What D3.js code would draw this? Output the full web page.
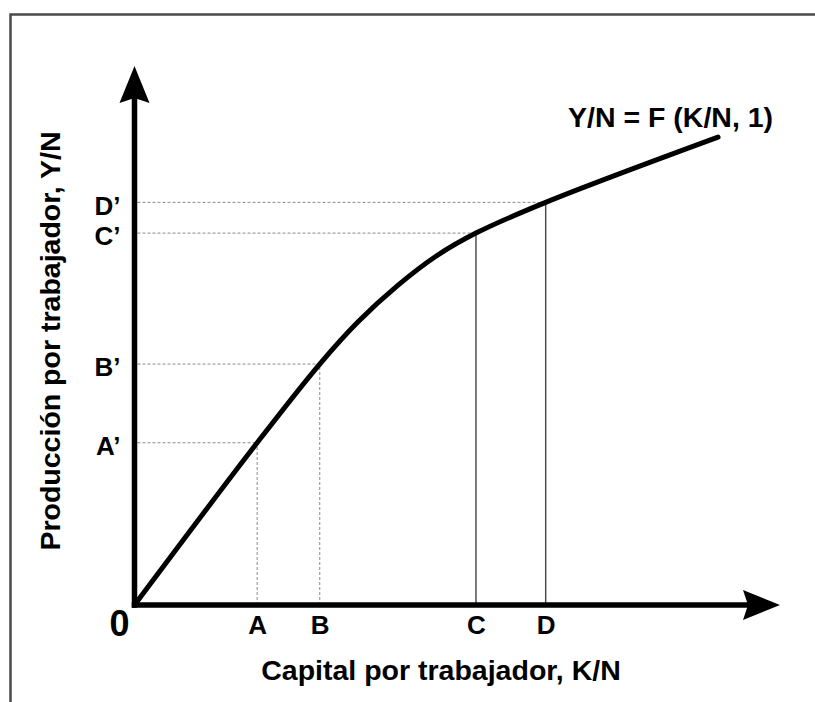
<!DOCTYPE html>
<html>
<head>
<meta charset="utf-8">
<script src="https://cdn.jsdelivr.net/npm/d3@7"></script>
<style>
  html, body { margin: 0; padding: 0; background: #fff; overflow: hidden; }
  svg { display: block; overflow: hidden; font-family: 'Liberation Sans', Arial, sans-serif; }
</style>
</head>
<body>
<div id="chart"></div>
<script>
// Production function per worker: Y/N = F(K/N, 1)
const curveK = [0, 1.9, 2.87, 3.46, 4.07, 4.67, 5.29, 6.37, 9.04];
const curveY = [0, 3.01, 4.47, 5.25, 5.92, 6.47, 6.9, 7.47, 8.68];

// marked points on the capital axis and their outputs
const pointLabels = ['A', 'B', 'C', 'D'];
const outputLabels = ['A’', 'B’', 'C’', 'D’'];
const pointK = [1.9, 2.87, 5.29, 6.37];
const pointY = [3.01, 4.47, 6.9, 7.47];

const curveLabel = 'Y/N = F (K/N, 1)';
const xTitle = 'Capital por trabajador, K/N';
const yTitle = 'Producción por trabajador, Y/N';

const width = 815, height = 702;
const font = "'Liberation Sans', Arial, sans-serif";

const x = d3.scaleLinear().domain([0, 10]).range([134.5, 780]);
const y = d3.scaleLinear().domain([0, 10]).range([605, 66]);

const svg = d3.select('#chart').append('svg')
  .attr('width', width)
  .attr('height', height);

// frame: only the top and left edges show in the picture
svg.append('path')
  .attr('d', `M10.5,${height + 5} L10.5,14.5 L${width + 5},14.5`)
  .attr('fill', 'none')
  .attr('stroke', '#4a4a4a')
  .attr('stroke-width', 2.5);

// guide lines
const guides = svg.append('g');
pointK.forEach((k, i) => {
  const dotted = i < 2;
  // horizontal, from the output axis to the curve
  guides.append('line')
    .attr('x1', x(0) + 3).attr('x2', x(k))
    .attr('y1', y(pointY[i])).attr('y2', y(pointY[i]))
    .attr('stroke', '#8a8a8a')
    .attr('stroke-width', 1)
    .attr('stroke-dasharray', '3,2');
  // vertical, from the capital axis to the curve
  guides.append('line')
    .attr('x1', x(k)).attr('x2', x(k))
    .attr('y1', y(0)).attr('y2', y(pointY[i]))
    .attr('stroke', dotted ? '#8a8a8a' : '#444')
    .attr('stroke-width', dotted ? 1 : 1.4)
    .attr('stroke-dasharray', dotted ? '3,2' : null);
});

// curve
const line = d3.line()
  .x(d => x(d[0]))
  .y(d => y(d[1]))
  .curve(d3.curveCatmullRom.alpha(0.5));

svg.append('path')
  .datum(curveK.map((k, i) => [k, curveY[i]]))
  .attr('d', line)
  .attr('fill', 'none')
  .attr('stroke', '#000')
  .attr('stroke-width', 5)
  .attr('stroke-linecap', 'round');

// axes with arrows
const axisW = 5.5;
svg.append('line')
  .attr('x1', x(0) - axisW / 2).attr('x2', x(10) - 30)
  .attr('y1', y(0)).attr('y2', y(0))
  .attr('stroke', '#000').attr('stroke-width', axisW);
svg.append('line')
  .attr('x1', x(0)).attr('x2', x(0))
  .attr('y1', y(0) + axisW / 2).attr('y2', y(10) + 30)
  .attr('stroke', '#000').attr('stroke-width', axisW);

const xt = x(10), yt = y(0);
svg.append('path')
  .attr('d', `M${xt},${yt} L${xt - 37},${yt - 15} L${xt - 32},${yt} L${xt - 37},${yt + 15} Z`)
  .attr('fill', '#000');
const ux = x(0), uy = y(10);
svg.append('path')
  .attr('d', `M${ux},${uy} L${ux - 15},${uy + 37} L${ux},${uy + 32} L${ux + 15},${uy + 37} Z`)
  .attr('fill', '#000');

// tick labels via d3 axes
const gx = svg.append('g')
  .attr('transform', `translate(0,${y(0)})`)
  .call(d3.axisBottom(x).tickValues(pointK).tickFormat((d, i) => pointLabels[i]).tickSize(0).tickPadding(11));
gx.select('.domain').remove();
gx.selectAll('text')
  .attr('font-size', 26).attr('font-weight', 'bold')
  .attr('font-family', font)
  .attr('fill', '#000');

const gy = svg.append('g')
  .attr('transform', `translate(${x(0)},0)`)
  .call(d3.axisLeft(y).tickValues(pointY).tickFormat((d, i) => outputLabels[i]).tickSize(0).tickPadding(14));
gy.select('.domain').remove();
gy.selectAll('text')
  .attr('dy', '0.45em')
  .attr('font-size', 26).attr('font-weight', 'bold')
  .attr('font-family', font)
  .attr('fill', '#000');

// origin
svg.append('text')
  .attr('x', 119.5).attr('y', 636)
  .attr('text-anchor', 'middle')
  .attr('font-size', 36).attr('font-weight', 'bold')
  .text('0');

// curve label
svg.append('text')
  .attr('x', 568).attr('y', 127)
  .attr('font-size', 28.5).attr('font-weight', 'bold')
  .text(curveLabel);

// axis titles
svg.append('text')
  .attr('x', 441).attr('y', 680)
  .attr('text-anchor', 'middle')
  .attr('font-size', 28.5).attr('font-weight', 'bold')
  .text(xTitle);

svg.append('text')
  .attr('transform', 'translate(60,341) rotate(-90)')
  .attr('text-anchor', 'middle')
  .attr('font-size', 28.5).attr('font-weight', 'bold')
  .text(yTitle);
</script>
</body>
</html>
